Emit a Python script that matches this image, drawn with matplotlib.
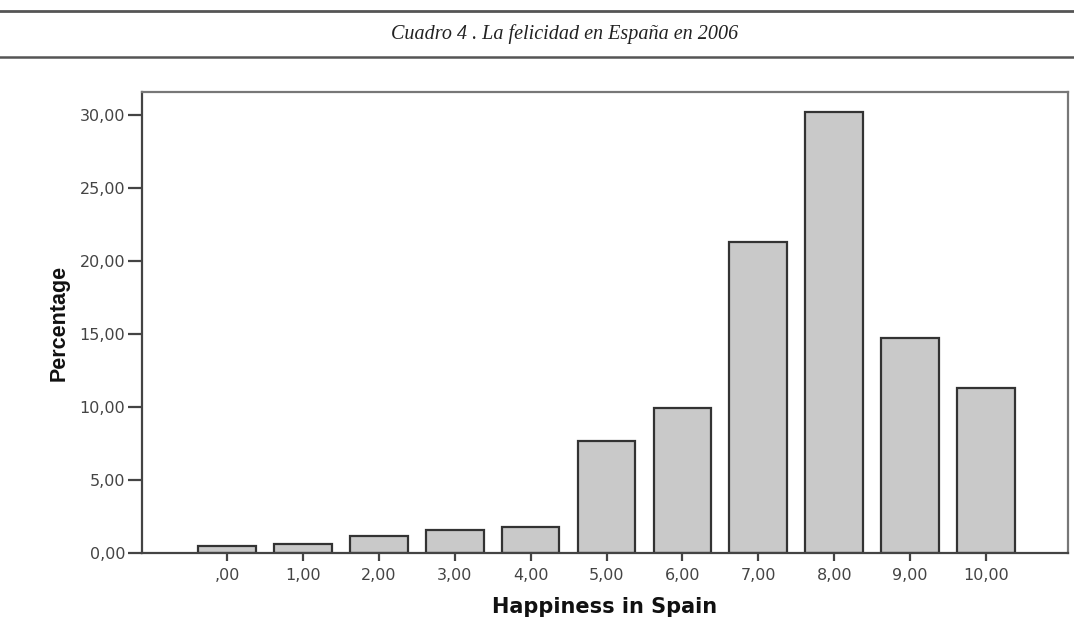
import matplotlib
matplotlib.use("Agg")
import matplotlib.pyplot as plt
from matplotlib.lines import Line2D

# Data
categories = [0, 1, 2, 3, 4, 5, 6, 7, 8, 9, 10]
tick_labels = [",00", "1,00", "2,00", "3,00", "4,00", "5,00", "6,00", "7,00", "8,00", "9,00", "10,00"]
percentages = [0.5, 0.6, 1.15, 1.55, 1.75, 7.7, 9.9, 21.3, 30.2, 14.7, 11.3]
y_ticks = [0, 5, 10, 15, 20, 25, 30]
y_tick_labels = ["0,00", "5,00", "10,00", "15,00", "20,00", "25,00", "30,00"]

W, H = 1074, 627
fig = plt.figure(figsize=(W / 100, H / 100), dpi=100)
fig.patch.set_facecolor("white")

# Title block with rules
fig.add_artist(Line2D([0, 1], [1 - 11 / H, 1 - 11 / H], transform=fig.transFigure,
                      color="#555555", lw=2.0))
fig.add_artist(Line2D([0, 1], [1 - 57 / H, 1 - 57 / H], transform=fig.transFigure,
                      color="#555555", lw=1.8))
fig.text(565 / W, 1 - 34 / H, "Cuadro 4 . La felicidad en España en 2006",
         ha="center", va="center", fontsize=14.5, style="italic",
         family="Liberation Serif", color="#222222")

left, right, top, bottom = 142, 1068, 92, 553
ax = fig.add_axes([left / W, 1 - bottom / H, (right - left) / W, (bottom - top) / H])

ax.bar(categories, percentages, width=0.76, color="#c9c9c9", edgecolor="#333333",
       linewidth=1.6, zorder=2)

ax.set_xlim(-1.12, 11.08)
ax.set_ylim(0, 31.58)
ax.set_xticks(categories)
ax.set_xticklabels(tick_labels)
ax.set_yticks(y_ticks)
ax.set_yticklabels(y_tick_labels)

for lab in ax.get_xticklabels() + ax.get_yticklabels():
    lab.set_family("DejaVu Sans")
    lab.set_fontsize(11.5)
    lab.set_color("#444444")

ax.tick_params(axis="y", direction="out", length=10, width=1.6, color="#444444", pad=2)
ax.tick_params(axis="x", direction="out", length=6, width=1.6, color="#444444", pad=5)

for side in ["left", "bottom"]:
    ax.spines[side].set_color("#444444")
    ax.spines[side].set_linewidth(1.6)
for side in ["top", "right"]:
    ax.spines[side].set_color("#777777")
    ax.spines[side].set_linewidth(1.6)

ax.set_ylabel("Percentage", family="Liberation Sans", fontweight="bold",
              fontsize=15.5, color="#111111")
ax.yaxis.set_label_coords(-0.078, 0.5)
ax.set_xlabel("Happiness in Spain", family="DejaVu Sans", fontweight="bold",
              fontsize=15, color="#111111")
ax.xaxis.set_label_coords(0.5, -0.095)

fig.savefig("out.png", dpi=100, facecolor="white")
